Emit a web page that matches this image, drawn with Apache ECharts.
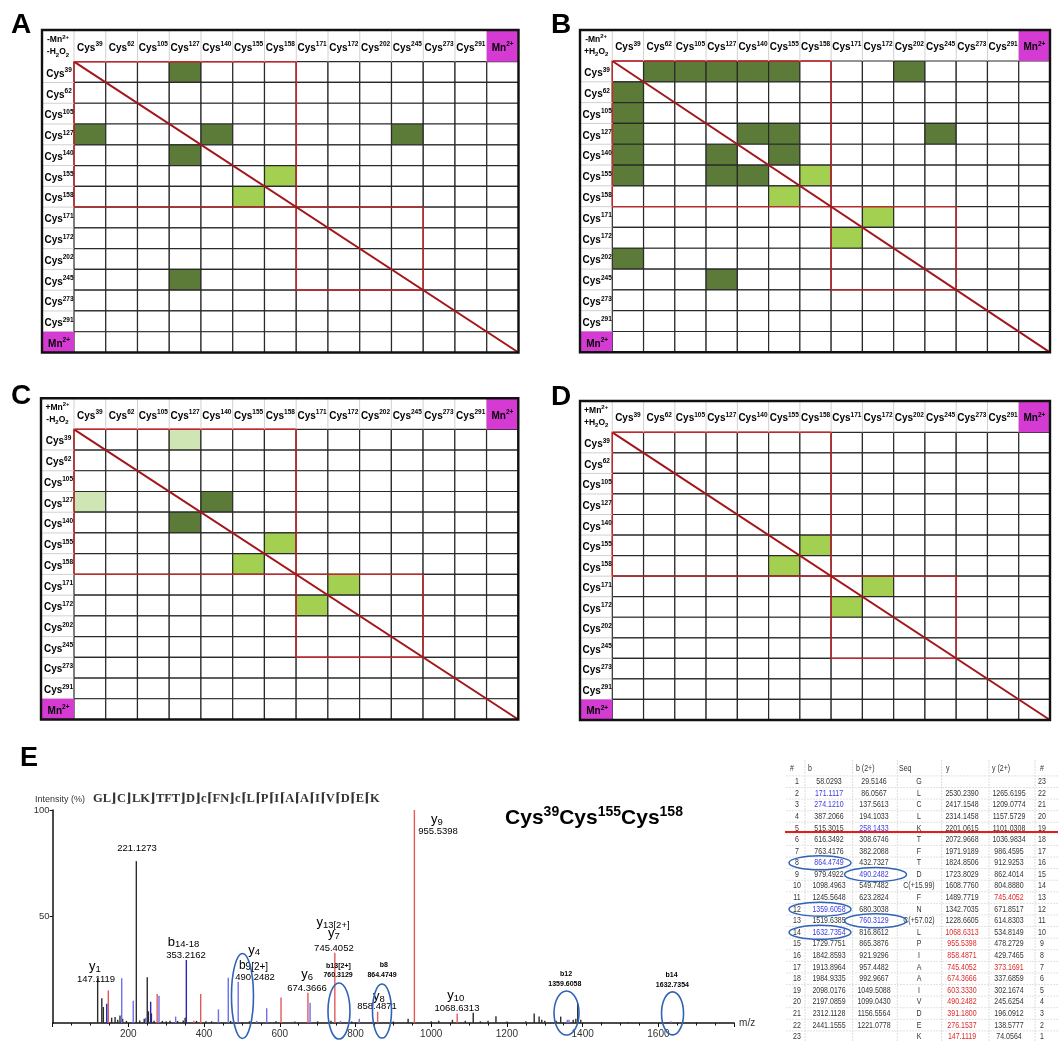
<!DOCTYPE html>
<html><head><meta charset="utf-8">
<script src="https://cdn.jsdelivr.net/npm/echarts@6/dist/echarts.min.js"></script>
<style>html,body{margin:0;padding:0;background:#fff}#c{width:1060px;height:1042px}</style>
</head><body><div id="c"></div><script>
// ---------------- DATA ----------------
const cysLabels = ['39','62','105','127','140','155','158','171','172','202','245','273','291'];
// cells given as [column, row] indices into cysLabels
const panelA_dark  = [[3,0],[0,3],[4,3],[10,3],[3,4],[3,10]];
const panelA_light = [[6,5],[5,6]];
const panelB_dark  = [[1,0],[2,0],[3,0],[4,0],[5,0],[9,0],[0,1],[0,2],[0,3],[4,3],[5,3],[10,3],[0,4],[3,4],[5,4],[0,5],[3,5],[4,5],[0,9],[3,10]];
const panelB_light = [[6,5],[5,6],[8,7],[7,8]];
const panelC_dark  = [[4,3],[3,4]];
const panelC_light = [[6,5],[5,6],[8,7],[7,8]];
const panelC_pale  = [[3,0],[0,3]];
const panelD_light = [[6,5],[5,6],[8,7],[7,8]];
const domainBoxes  = [[0,7],[7,11]];   // [start,end] index ranges
const conditionSigns = [['-','-'],['-','+'],['+','-'],['+','+']];

// spectrum peaks [m/z, intensity %]
const peaksBlack = [[119,21],[130,11.6],[134,7.5],[156,2.5],[165,2.8],[172,1.5],[178,3.5],[185,2],[195,1],[221.13,76],[230,1.2],[242,2],[250,21.5],[253,5.5],[261,4.5],[268,1],[290,1],[300,0.8],[310,1],[330,1],[345,1.2],[350,2.5],[380,1],[405,0.8],[420,0.8],[470,1],[520,0.8],[590,0.8],[640,0.7],[700,0.8],[735,1],[790,0.7],[900,0.7],[939,2],[1000,0.8],[1020,1],[1056,1.5],[1090,1],[1111,4.8],[1130,0.8],[1150,1],[1171,3.2],[1200,0.7],[1250,0.8],[1272,4.5],[1285,3],[1292,1.5],[1300,1],[1330,1],[1342,3],[1375,1.5],[1382,2],[1387,9],[1395,1.5],[1450,0.5],[1520,0.5],[1700,0.4]];
const peaksRed = [[147.11,15.2],[276.15,13.6],[373.17,1],[391.18,13.6],[603.33,12],[674.37,14.2],[745.41,33],[858.49,5.3],[955.54,100],[1068.63,4.5]];
const peaksBlueDark = [[143,9],[259,10],[353.22,29.6]];
const peaksBlueLight = [[182.5,21],[213,10.5],[246,2.5],[281,12.8],[325,3],[438,6.4],[464,21.3],[490.25,19.4],[539,1],[565.5,6.9],[680,9.5],[760.31,1],[810,2],[1359.61,1.5],[1364,1.5],[1632.74,0.8]];

// peak annotations
const annotText = ['{i|y}{u|1}','{n|147.1119}','{n|221.1273}','{i|b}{u|14-18}','{n|353.2162}','{i|y}{u|4}','{b|b}{v|9[2+]}','{n|490.2482}','{i|y}{u|13[2+]}','{i|y}{u|7}','{n|745.4052}','{k|b13[2+]}','{k|760.3129}','{i|y}{u|6}','{n|674.3666}','{k|b8}','{k|864.4749}','{i|y}{u|8}','{n|858.4871}','{i|y}{u|9}','{n|955.5398}','{i|y}{u|10}','{n|1068.6313}','{k|b12}','{k|1359.6058}','{k|b14}','{k|1632.7354}'];
const annotMz  = [112,114.6,223,345.7,352.4,532,530.6,534.6,740.6,743,743,755,754,672,672,875,870,862,857,1015,1018,1065,1068,1356,1353,1635,1637];
const annotInt = [26.3,20.5,82,37.7,31.9,33.9,26.8,21.5,47,41.6,35,26.8,22.4,22.5,16.3,27,22.3,12.2,7.7,95.3,89.8,12.7,6.9,23,18.3,22.5,17.8];
// circled peaks [m/z centre, intensity centre]
const circledMz  = [501.5,756.4,870,1357.4,1637.4];
const circledInt = [12.7,5.6,5.6,4.7,4.5];

const seqText = 'GL⌋C⌋LK⌋TFT⌋D⌋c⌈FN⌋c⌈L⌈P⌈I⌈A⌈A⌈I⌈V⌈D⌈E⌈K';

// fragment table
const tabB  = ['58.0293','171.1117','274.1210','387.2066','515.3015','616.3492','763.4176','864.4749','979.4922','1098.4963','1245.5648','1359.6058','1519.6385','1632.7354','1729.7751','1842.8593','1913.8964','1984.9335','2098.0176','2197.0859','2312.1128','2441.1555',''];
const tabB2 = ['29.5146','86.0567','137.5613','194.1033','258.1433','308.6746','382.2088','432.7327','490.2482','549.7482','623.2824','680.3038','760.3129','816.8612','865.3876','921.9296','957.4482','992.9667','1049.5088','1099.0430','1156.5564','1221.0778',''];
const tabSeq = ['G','L','C','L','K','T','F','T','D','C(+15.99)','F','N','C(+57.02)','L','P','I','A','A','I','V','D','E','K'];
const tabY  = ['','2530.2390','2417.1548','2314.1458','2201.0615','2072.9668','1971.9189','1824.8506','1723.8029','1608.7760','1489.7719','1342.7035','1228.6605','1068.6313','955.5398','858.4871','745.4052','674.3666','603.3330','490.2482','391.1800','276.1537','147.1119'];
const tabY2 = ['','1265.6195','1209.0774','1157.5729','1101.0308','1036.9834','986.4595','912.9253','862.4014','804.8880','745.4052','671.8517','614.8303','534.8149','478.2729','429.7465','373.1691','337.6859','302.1674','245.6254','196.0912','138.5777','74.0564'];
const blueB  = [2,3,8,12,14];
const blueB2 = [5,9,13];
const redY   = [14,15,16,17,18,19,20,21,22,23];
const redY2  = [11,17];
const tableCircled = [[8,'b'],[9,'b2'],[12,'b'],[13,'b2'],[14,'b']];

// ---------------- STYLE / LAYOUT ----------------
const FF = '"Liberation Sans", Arial, Helvetica, sans-serif';
const CELL_COLORS = ['#ffffff','#5d7b38','#a4d052','#cfe6b4'];
const MAG = '#d53bd2';
const panels = [
  {letter:'A', lx:11, ly:25, left:74,    top:61.7,  width:444.5, height:290.8, headH:31.7, colW:32,   dark:panelA_dark, light:panelA_light},
  {letter:'B', lx:551, ly:25, left:612.3, top:61,    width:437.7, height:291.3, headH:31,   colW:32.3, dark:panelB_dark, light:panelB_light},
  {letter:'C', lx:11, ly:396, left:74,   top:429.3, width:444.3, height:290.2, headH:31,   colW:33,   dark:panelC_dark, light:panelC_light, pale:panelC_pale},
  {letter:'D', lx:551, ly:397, left:612.3,top:432.3, width:437.7, height:287.7, headH:31.3, colW:32.3, dark:[], light:panelD_light}
];

function buildCells(dark, light, pale){
  const m = {};
  (dark||[]).forEach(([c,r])=>m[c+','+r]=1);
  (light||[]).forEach(([c,r])=>m[c+','+r]=2);
  (pale||[]).forEach(([c,r])=>m[c+','+r]=3);
  const out=[];
  for(let r=0;r<14;r++)for(let c=0;c<14;c++)out.push([c,r,m[c+','+r]||0]);
  return out;
}

const labRich = {
  c:{fontSize:10, fontWeight:'bold', fontFamily:FF, color:'#111', lineHeight:12, verticalAlign:'bottom'},
  s:{fontSize:6.5, fontWeight:'bold', fontFamily:FF, color:'#111', lineHeight:8, verticalAlign:'top'},
  m:{fontSize:10, fontWeight:'bold', fontFamily:FF, color:'#fff', lineHeight:12, verticalAlign:'bottom'},
  ms:{fontSize:6.5, fontWeight:'bold', fontFamily:FF, color:'#fff', lineHeight:8, verticalAlign:'top'},
  r:{fontSize:8.5, fontWeight:'bold', fontFamily:FF, color:'#e8262a', lineHeight:12, verticalAlign:'middle'},
  rs:{fontSize:6, fontWeight:'bold', fontFamily:FF, color:'#e8262a', lineHeight:7, verticalAlign:'top'},
  rb:{fontSize:6, fontWeight:'bold', fontFamily:FF, color:'#e8262a', lineHeight:7, verticalAlign:'bottom'}
};

function cellRender(params, api){
  const c=api.value(0), r=api.value(1), k=api.value(2);
  const p0=api.coord([c,r]), p1=api.coord([c+1,r+1]);
  return {type:'rect', shape:{x:p0[0],y:p0[1],width:p1[0]-p0[0],height:p1[1]-p0[1]},
    style:{fill:CELL_COLORS[k], stroke:'#2a2a2a', lineWidth:1.2}};
}
function boxRender(params, api){
  const a=api.value(0), b=api.value(1);
  const p0=api.coord([a,a]), p1=api.coord([b,b]);
  return {type:'rect', z2:5, shape:{x:p0[0],y:p0[1],width:p1[0]-p0[0],height:p1[1]-p0[1]},
    style:{fill:'none', stroke:'#c6262a', lineWidth:1.4}};
}
function chromeRender(P, signs){
  return function(params, api){
    const tl=api.coord([0,0]), br=api.coord([14,14]);
    const cw=(br[0]-tl[0])/14, rh=(br[1]-tl[1])/14;
    const x0=tl[0]-P.colW, y0=tl[1]-P.headH;
    const ch=[];
    for(let c=1;c<14;c++){
      const x=tl[0]+c*cw;
      ch.push({type:'line', shape:{x1:x,y1:y0,x2:x,y2:tl[1]}, style:{stroke:'#d0d0d0', lineWidth:1}});
    }
    ch.push({type:'line', shape:{x1:tl[0],y1:y0,x2:tl[0],y2:tl[1]}, style:{stroke:'#d0d0d0', lineWidth:1}});
    for(let r=1;r<14;r++){
      const y=tl[1]+r*rh;
      ch.push({type:'line', shape:{x1:x0,y1:y,x2:tl[0],y2:y}, style:{stroke:'#d0d0d0', lineWidth:1}});
    }
    // magenta corner cells
    ch.push({type:'rect', shape:{x:tl[0]+13*cw, y:y0, width:cw, height:P.headH}, style:{fill:MAG}});
    ch.push({type:'rect', shape:{x:x0, y:tl[1]+13*rh, width:P.colW, height:rh}, style:{fill:MAG}});
    for(let c=0;c<14;c++){
      const txt = c<13 ? '{c|Cys}{s|'+cysLabels[c]+'}' : '{m|Mn}{ms|2+}';
      ch.push({type:'text', x:tl[0]+(c+0.5)*cw, y:y0+P.headH/2+1,
        style:{text:txt, rich:labRich, align:'center', verticalAlign:'middle'}});
      ch.push({type:'text', x:x0+P.colW/2+1, y:tl[1]+(c+0.5)*rh+1,
        style:{text:txt, rich:labRich, align:'center', verticalAlign:'middle'}});
    }
    ch.push({type:'text', x:x0+P.colW/2, y:y0+P.headH/2,
      style:{text:'{r|'+signs[0]+'Mn}{rs|2+}\n{r|'+signs[1]+'H}{rb|2}{r|O}{rb|2}', rich:labRich, align:'center', verticalAlign:'middle'}});
    ch.push({type:'rect', shape:{x:x0, y:y0, width:br[0]-x0, height:br[1]-y0},
      style:{fill:'none', stroke:'#111', lineWidth:2.4}});
    return {type:'group', children:ch};
  };
}

const grids=[], xAxes=[], yAxes=[], series=[];
panels.forEach((P,i)=>{
  grids.push({left:P.left, top:P.top, width:P.width, height:P.height, containLabel:false});
  xAxes.push({gridIndex:i, type:'value', min:0, max:14, show:false});
  yAxes.push({gridIndex:i, type:'value', min:0, max:14, inverse:true, show:false});
  series.push({type:'custom', xAxisIndex:i, yAxisIndex:i, silent:true, z:1, data:buildCells(P.dark,P.light,P.pale), renderItem:cellRender, animation:false});
  series.push({type:'custom', xAxisIndex:i, yAxisIndex:i, silent:true, z:3, data:domainBoxes, renderItem:boxRender, animation:false});
  series.push({type:'line', xAxisIndex:i, yAxisIndex:i, silent:true, z:4, data:[[0,0],[14,14]], symbol:'none', lineStyle:{color:'#a3161a', width:2}, animation:false});
  series.push({type:'custom', xAxisIndex:i, yAxisIndex:i, silent:true, z:5, data:[[0,0]], renderItem:chromeRender(P, conditionSigns[i]), animation:false});
});

// spectrum grid
grids.push({left:52.6, top:810, width:681.5, height:213});
xAxes.push({gridIndex:4, type:'value', min:0, max:1800, interval:200,
  name:'m/z', nameLocation:'end', nameGap:5, nameTextStyle:{fontSize:10, color:'#333', fontFamily:FF, verticalAlign:'middle', padding:[6,0,0,0]},
  axisLine:{lineStyle:{color:'#111', width:1.5}}, axisTick:{show:true, length:4, lineStyle:{color:'#111'}},
  minorTick:{show:true, splitNumber:4, length:2.5, lineStyle:{color:'#111'}},
  axisLabel:{fontSize:10, color:'#333', fontFamily:FF, margin:6, formatter:v=>(v===0||v===1800)?'':String(v)},
  splitLine:{show:false}});
yAxes.push({gridIndex:4, type:'value', min:0, max:100, interval:50,
  axisLine:{show:true, lineStyle:{color:'#111', width:1.5}}, axisTick:{show:true, length:3, lineStyle:{color:'#111'}},
  axisLabel:{fontSize:9.5, color:'#333', fontFamily:FF, margin:3, showMinLabel:false},
  splitLine:{show:false}});

function peakRender(color){
  return function(params, api){
    const a=api.coord([api.value(0),0]), b=api.coord([api.value(0),api.value(1)]);
    return {type:'line', shape:{x1:a[0],y1:a[1],x2:b[0],y2:b[1]}, style:{stroke:color, lineWidth:1.4}};
  };
}
[[peaksBlack,'#2b2b2b'],[peaksRed,'#e35a5a'],[peaksBlueLight,'#6e6ef0'],[peaksBlueDark,'#2626b0']].forEach(([d,c])=>{
  series.push({type:'custom', xAxisIndex:4, yAxisIndex:4, silent:true, data:d, renderItem:peakRender(c), animation:false, z:2});
});

const annRich = {
  i:{fontSize:13, fontFamily:FF, color:'#111', lineHeight:14, verticalAlign:'top'},
  u:{fontSize:9.5, fontFamily:FF, color:'#111', lineHeight:8, verticalAlign:'bottom'},
  b:{fontSize:12, fontFamily:FF, color:'#111', lineHeight:13, verticalAlign:'top'},
  v:{fontSize:10, fontFamily:FF, color:'#111', lineHeight:11, verticalAlign:'bottom'},
  n:{fontSize:9.5, fontFamily:FF, color:'#222'},
  k:{fontSize:7, fontWeight:'bold', fontFamily:FF, color:'#222'}
};
series.push({type:'custom', xAxisIndex:4, yAxisIndex:4, silent:true, z:6, animation:false,
  data:annotMz.map((m,i)=>[m, annotInt[i], i]),
  renderItem:function(params, api){
    const p=api.coord([api.value(0), api.value(1)]);
    return {type:'text', x:p[0], y:p[1], style:{text:annotText[api.value(2)], rich:annRich, align:'center', verticalAlign:'middle'}};
  }});
const circR = [[11,42.5],[11,28],[9.5,27],[12.5,22],[11,21.5]];
series.push({type:'custom', xAxisIndex:4, yAxisIndex:4, silent:true, z:7, animation:false,
  data:circledMz.map((m,i)=>[m, circledInt[i], i]),
  renderItem:function(params, api){
    const p=api.coord([api.value(0), api.value(1)]);
    const r=circR[api.value(2)];
    return {type:'ellipse', shape:{cx:p[0], cy:p[1], rx:r[0], ry:r[1]}, style:{fill:'none', stroke:'#2f63b6', lineWidth:1.6}};
  }});

// ---------------- GRAPHICS (letters, titles, table) ----------------
const g = [];
panels.forEach(P=>{
  g.push({type:'text', left:P.lx, top:P.ly-14, style:{text:P.letter, font:'bold 28px '+FF, fill:'#000'}});
});
g.push({type:'text', left:20, top:745, style:{text:'E', font:'bold 27px '+FF, fill:'#000'}});
g.push({type:'text', x:35, y:800, style:{text:'Intensity (%)', font:'9px '+FF, fill:'#333', verticalAlign:'middle'}});
g.push({type:'text', x:93, y:799, style:{text:seqText, font:'bold 12.5px "Liberation Serif", "DejaVu Serif", serif', fill:'#333', verticalAlign:'middle'}});
g.push({type:'text', x:594, y:817, style:{text:'{c|Cys}{s|39}{c|Cys}{s|155}{c|Cys}{s|158}', align:'center', verticalAlign:'middle',
  rich:{c:{fontSize:21, fontWeight:'bold', fontFamily:FF, color:'#111', lineHeight:24, verticalAlign:'bottom'},
        s:{fontSize:14, fontWeight:'bold', fontFamily:FF, color:'#111', lineHeight:16, verticalAlign:'top'}}}});

// table
const rowY0 = 781.7, rowH = 11.59;
const colX = {num:797, b:829, b2:874, seq:919, y:962, y2:1009, num2:1042};
const SX = 0.78;
function tt(x, y, text, color, align){
  g.push({type:'text', x:x, y:y, scaleX:SX, style:{text:text, font:'9px '+FF, fill:color||'#333', align:align||'center', verticalAlign:'middle'}});
}
const vLines=[805,852.7,897.3,941.7,989,1035];
vLines.forEach(x=>g.push({type:'line', shape:{x1:x,y1:760,x2:x,y2:1042}, style:{stroke:'#dcdcdc', lineWidth:1, lineDash:[2,1]}}));
for(let i=0;i<=23;i++){
  const y=rowY0-rowH/2+i*rowH;
  g.push({type:'line', shape:{x1:786,y1:y,x2:1058,y2:y}, style:{stroke:'#e2e2e2', lineWidth:1, lineDash:[2,1]}});
}
tt(792, 768.5, '#'); tt(808, 768.5, 'b', null, 'left'); tt(856, 768.5, 'b (2+)', null, 'left');
tt(899, 768.5, 'Seq', null, 'left'); tt(946, 768.5, 'y', null, 'left'); tt(992, 768.5, 'y (2+)', null, 'left'); tt(1042, 768.5, '#');
const BLUE='#3a3ae6', RED='#e02a2a';
for(let i=0;i<23;i++){
  const n=i+1, y=rowY0+i*rowH;
  tt(colX.num, y, String(n));
  tt(colX.b, y, tabB[i], blueB.includes(n)?BLUE:'#333');
  tt(colX.b2, y, tabB2[i], blueB2.includes(n)?BLUE:'#333');
  tt(colX.seq, y, tabSeq[i]);
  tt(colX.y, y, tabY[i], redY.includes(n)?RED:'#333');
  tt(colX.y2, y, tabY2[i], redY2.includes(n)?RED:'#333');
  tt(colX.num2, y, String(24-n));
}
g.push({type:'line', shape:{x1:785,y1:832,x2:1058,y2:832}, style:{stroke:'#e01e1e', lineWidth:2}});
tableCircled.forEach(([n,col])=>{
  const cx = col==='b'?820:875.5;
  g.push({type:'ellipse', shape:{cx:cx, cy:rowY0+(n-1)*rowH, rx:31, ry:7}, style:{fill:'none', stroke:'#2f63b6', lineWidth:1.5}});
});

const chart = echarts.init(document.getElementById('c'), null, {renderer:'canvas'});
chart.setOption({animation:false, backgroundColor:'#fff', grid:grids, xAxis:xAxes, yAxis:yAxes, series:series, graphic:g});
</script></body></html>
